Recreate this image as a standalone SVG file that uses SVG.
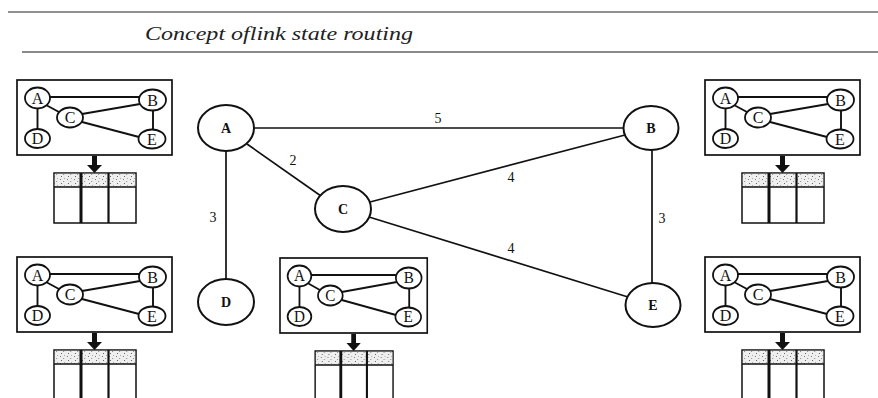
<svg xmlns="http://www.w3.org/2000/svg" xmlns:xlink="http://www.w3.org/1999/xlink" width="878" height="398" viewBox="0 0 878 398">
  <style>
    .rule { stroke: #222; stroke-width: 1.2; }
    .rule2 { stroke: #8a8a8a; stroke-width: 2; }
    .title { font-family: "Liberation Serif", "DejaVu Serif", serif; font-style: italic; font-size: 18px; fill: #222; }
    .node { fill: #fff; stroke: #111; stroke-width: 2; }
    .nlabel { font-family: "Liberation Serif", "DejaVu Serif", serif; font-weight: bold; font-size: 14px; fill: #111; text-anchor: middle; }
    .edge { stroke: #111; stroke-width: 1.7; fill: none; }
    .elabel { font-family: "Liberation Serif", "DejaVu Serif", serif; font-size: 14px; fill: #111; text-anchor: middle; }
    .box { fill: #fff; stroke: #111; stroke-width: 1.7; }
    .mnode { fill: #fff; stroke: #111; stroke-width: 1.8; }
    .medge { stroke: #111; stroke-width: 1.9; fill: none; }
    .mlabel { font-family: "Liberation Serif", "DejaVu Serif", serif; font-size: 16px; fill: #111; text-anchor: middle; }
    .tbl { fill: #fff; stroke: #111; stroke-width: 1.5; }
    .col { stroke: #111; stroke-width: 2.2; }
  </style>
  <defs>
    <!-- speckled header shading of the routing tables -->
    <pattern id="speckle" width="7" height="7" patternUnits="userSpaceOnUse">
      <rect width="7" height="7" fill="#efefef"/>
      <rect x="1" y="1" width="1" height="1" fill="#777"/>
      <rect x="4" y="3" width="1.2" height="1" fill="#999"/>
      <rect x="2" y="5" width="1" height="1" fill="#666"/>
      <rect x="5" y="0" width="1" height="1" fill="#aaa"/>
    </pattern>
    <!-- one router's view: topology snapshot, arrow, and its table -->
    <g id="panel">
      <rect class="box" x="0" y="0" width="155" height="75"/>
      <g>
        <line class="medge" x1="33" y1="17" x2="122" y2="17"/>
        <line class="medge" x1="29" y1="25" x2="42" y2="32"/>
        <line class="medge" x1="20.5" y1="28" x2="20.5" y2="50"/>
        <line class="medge" x1="65" y1="34" x2="123" y2="24"/>
        <line class="medge" x1="65" y1="42" x2="122" y2="57"/>
        <line class="medge" x1="136" y1="30" x2="136" y2="50"/>
      </g>
      <ellipse class="mnode" cx="20.5" cy="18" rx="12.5" ry="10.5"/>
      <ellipse class="mnode" cx="135.5" cy="20" rx="13.5" ry="10.5"/>
      <ellipse class="mnode" cx="53" cy="37.5" rx="13" ry="10"/>
      <ellipse class="mnode" cx="20.5" cy="58.5" rx="12.5" ry="9.5"/>
      <ellipse class="mnode" cx="135" cy="59" rx="13.5" ry="9.5"/>
      <text class="mlabel" x="20.5" y="23.5">A</text>
      <text class="mlabel" x="135.5" y="25.5">B</text>
      <text class="mlabel" x="53" y="43">C</text>
      <text class="mlabel" x="20.5" y="64">D</text>
      <text class="mlabel" x="135" y="64.5">E</text>
      <!-- down arrow -->
      <rect x="75" y="76" width="5" height="10" fill="#111"/>
      <polygon points="70,85 85,85 77.5,93" fill="#111"/>
      <!-- routing table -->
      <rect class="tbl" x="37" y="93" width="82" height="50"/>
      <rect x="37.8" y="93.8" width="80.4" height="13" fill="url(#speckle)"/>
      <line class="tbl" x1="37" y1="107" x2="119" y2="107"/>
      <line class="col" x1="64" y1="93" x2="64" y2="143" style="stroke-width:3"/>
      <line class="col" x1="91.5" y1="93" x2="91.5" y2="143"/>
    </g>
  </defs>

  <!-- heading -->
  <line class="rule" x1="8" y1="12" x2="878" y2="12"/>
  <text class="title" x="145" y="40" textLength="268" lengthAdjust="spacingAndGlyphs">Concept oflink state routing</text>
  <line class="rule2" x1="22" y1="52" x2="878" y2="52"/>

  <!-- links of the network -->
  <g id="connectors">
    <line class="edge" x1="254" y1="128" x2="623" y2="128"/>
    <line class="edge" x1="247" y1="144" x2="321" y2="196"/>
    <line class="edge" x1="226" y1="151" x2="226" y2="280"/>
    <line class="edge" x1="370" y1="202" x2="625" y2="135"/>
    <line class="edge" x1="369" y1="217" x2="628" y2="297"/>
    <line class="edge" x1="652" y1="150" x2="652" y2="283"/>
    <text class="elabel" x="438" y="123">5</text>
    <text class="elabel" x="293" y="165">2</text>
    <text class="elabel" x="213" y="222">3</text>
    <text class="elabel" x="511" y="182">4</text>
    <text class="elabel" x="511" y="253">4</text>
    <text class="elabel" x="662" y="223">3</text>
  </g>

  <!-- routers -->
  <g id="node-A">
    <ellipse class="node" cx="226" cy="128" rx="28" ry="23"/>
    <text class="nlabel" x="226" y="133">A</text>
  </g>
  <g id="node-B">
    <ellipse class="node" cx="651" cy="128" rx="27.5" ry="22"/>
    <text class="nlabel" x="651" y="133">B</text>
  </g>
  <g id="node-C">
    <ellipse class="node" cx="343" cy="209" rx="28" ry="23"/>
    <text class="nlabel" x="343" y="214">C</text>
  </g>
  <g id="node-D">
    <ellipse class="node" cx="226" cy="302" rx="28" ry="23"/>
    <text class="nlabel" x="226" y="307">D</text>
  </g>
  <g id="node-E">
    <ellipse class="node" cx="653" cy="305" rx="27.5" ry="22"/>
    <text class="nlabel" x="653" y="310">E</text>
  </g>

  <!-- each router's own copy of the topology -->
  <g id="view-A"><use href="#panel" xlink:href="#panel" transform="translate(17,80)"/></g>
  <g id="view-B"><use href="#panel" xlink:href="#panel" transform="translate(705,80)"/></g>
  <g id="view-D"><use href="#panel" xlink:href="#panel" transform="translate(17,257)"/></g>
  <g id="view-C"><use href="#panel" xlink:href="#panel" transform="translate(280,258) scale(0.95,1)"/></g>
  <g id="view-E"><use href="#panel" xlink:href="#panel" transform="translate(705,257)"/></g>
</svg>
